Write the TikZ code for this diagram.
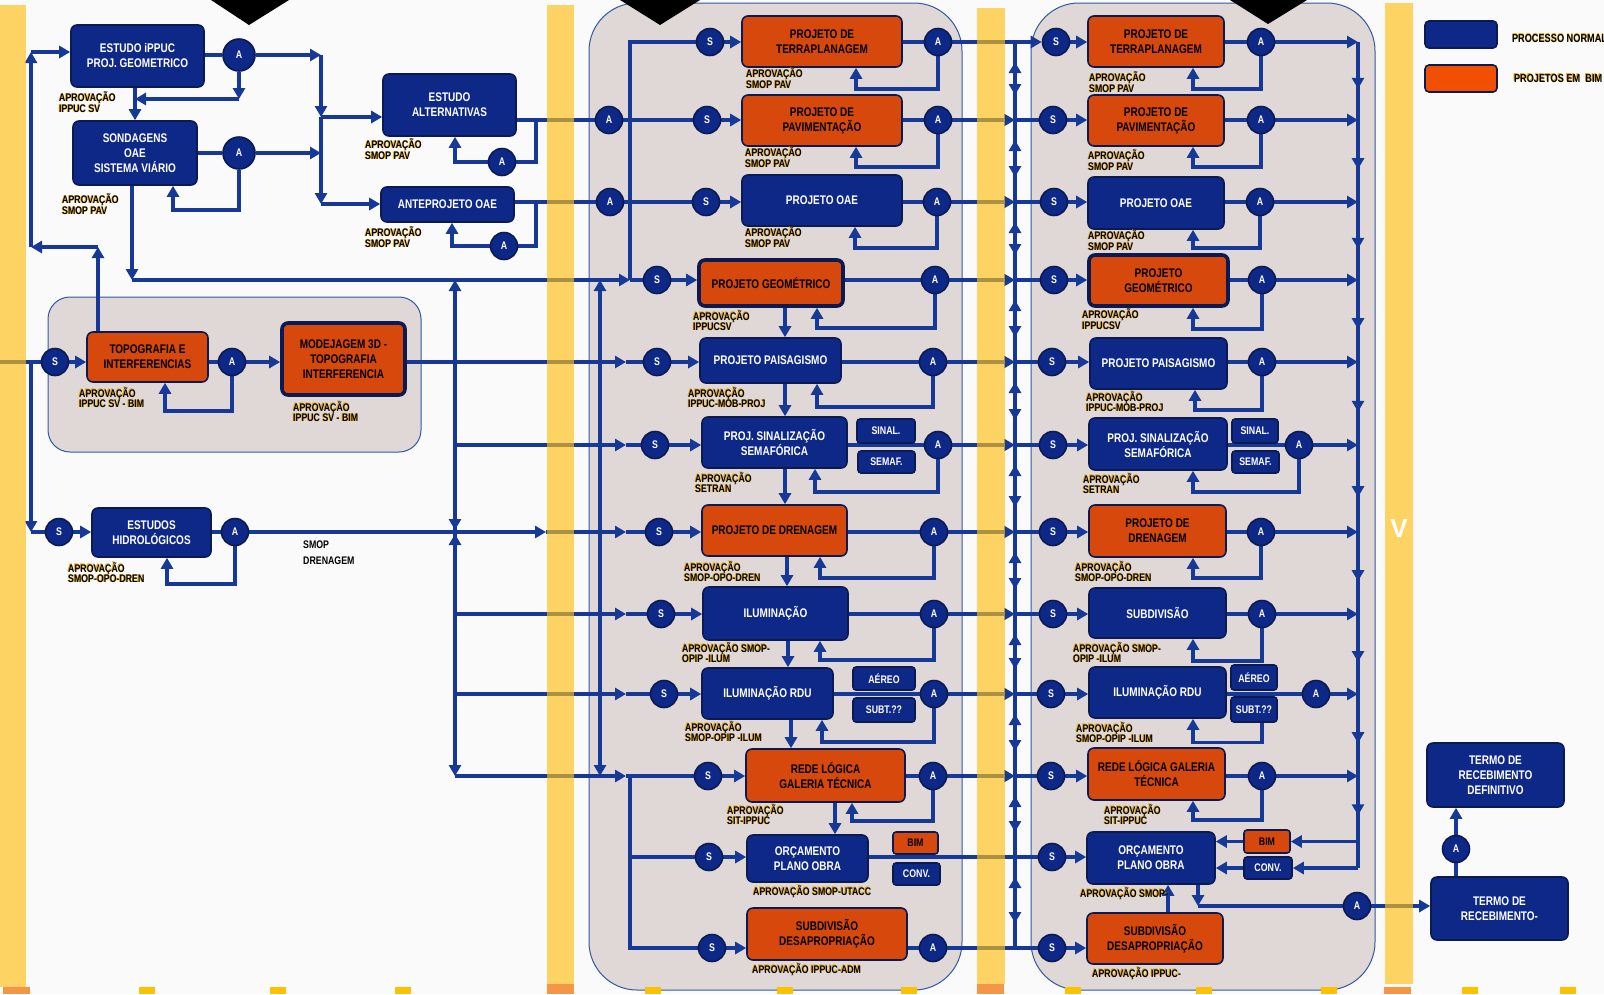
\documentclass[tikz,border=0pt]{standalone}
\usepackage{fontspec}
\setmainfont{Liberation Sans}
\newfontfamily\cnd{Liberation Sans}[FakeStretch=0.8]
\usetikzlibrary{arrows.meta,calc,positioning,decorations.markings}

\definecolor{lnblue}{RGB}{22,56,150}
\definecolor{boxblue}{RGB}{14,40,135}
\definecolor{navyd}{RGB}{12,26,82}
\definecolor{boxorange}{RGB}{214,72,12}
\definecolor{legorange}{RGB}{240,80,0}
\definecolor{grpfill}{RGB}{224,216,215}
\definecolor{grpedge}{RGB}{50,90,160}
\definecolor{baryel}{RGB}{255,193,21}
\definecolor{bgc}{RGB}{250,250,250}
\definecolor{sqyel}{RGB}{255,192,0}
\definecolor{sqora}{RGB}{245,150,70}
\definecolor{shadowor}{RGB}{235,165,0}

\pgfdeclarelayer{back}
\pgfdeclarelayer{lines}
\pgfdeclarelayer{front}
\pgfsetlayers{back,lines,main,front}

\tikzset{
  ln/.style={color=lnblue, line width=3.2pt},
  arr/.style={ln, ->},
  bidir/.style={postaction=decorate, decoration={markings,
      mark=at position 20pt with {\arrowreversed{Triangle[length=11pt,width=12pt]}},
      mark=at position -25pt with {\arrow{Triangle[length=11pt,width=12pt]}}}},
  midarr/.style={postaction=decorate, decoration={markings,
      mark=at position 0.6 with {\arrow{Triangle[length=11pt,width=12pt]}}}},
  bbox/.style={draw=navyd, line width=1.6pt, fill=boxblue, rounded corners=6pt, text=white,
      align=center, inner sep=0pt, font=\cnd\bfseries\fontsize{12.5}{15}\selectfont},
  obox/.style={bbox, fill=boxorange, text=black},
  thk/.style={line width=3.6pt},
  tag/.style={bbox, rounded corners=3pt, font=\cnd\bfseries\fontsize{11}{11}\selectfont},
  otag/.style={tag, fill=boxorange, text=black},
  circ/.style={circle, draw=navyd, line width=1.6pt, fill=boxblue, text=white, minimum size=27pt,
      inner sep=0pt, font=\cnd\bfseries\fontsize{11}{11}\selectfont},
  aptext/.style={anchor=north west, align=left, inner sep=0pt, text=black,
      font=\cnd\bfseries\fontsize{11}{9.5}\selectfont},
  apshadow/.style={aptext, text=shadowor, xshift=-0.9pt, yshift=0.7pt},
  legtxt/.style={inner sep=0pt, text=black, font=\cnd\bfseries\fontsize{11.5}{11.5}\selectfont},
  grp/.style={draw=grpedge, line width=1pt, fill=grpfill},
  yelbar/.style={fill=baryel, fill opacity=0.65},
}

% approval label with its coloured shadow
\newcommand{\aprov}[3]{%
  \node[apshadow] (#1s) at #2 {#3};
  \node[aptext] (#1) at #2 {#3};}

\begin{document}
\begin{tikzpicture}[x=1pt, y=-1pt, >={Triangle[length=11pt,width=12pt]}]
\useasboundingbox (0,0) rectangle (1604,994);

\begin{pgfonlayer}{back}
  \fill[bgc] (0,0) rectangle (1604,994);
  % grey groups
  \draw[grp, rounded corners=22pt] (48,297) rectangle (421,452);
  \draw[grp, rounded corners=48pt] (589,3) rectangle (962,990);
  \draw[grp, rounded corners=48pt] (1031,3) rectangle (1375,990);
\end{pgfonlayer}

% ---------- studies (left)
\node[bbox, minimum width=133, minimum height=62] (estudo) at (137.5,56) {ESTUDO iPPUC\\PROJ. GEOMETRICO};
\node[circ, minimum size=32] (aE) at (239,55) {A};
\node[bbox, minimum width=124, minimum height=64] (sond) at (135,153) {SONDAGENS\\OAE\\SISTEMA VIÁRIO};
\node[circ, minimum size=32] (aS) at (239,153) {A};
\node[bbox, minimum width=133, minimum height=62] (altern) at (449.5,105) {ESTUDO\\ALTERNATIVAS};
\node[circ] (aAlt) at (502,162) {A};
\node[bbox, minimum width=133, minimum height=35] (antep) at (447.5,204.5) {ANTEPROJETO OAE};
\node[circ] (aAnt) at (504,246) {A};
\node[obox, minimum width=121, minimum height=50] (topo) at (147.5,357) {TOPOGRAFIA E\\INTERFERENCIAS};
\node[circ] (sTopo) at (55,362) {S};
\node[circ] (aTopo) at (232,362) {A};
\node[obox, thk, minimum width=123, minimum height=72] (model) at (343.5,359) {MODEJAGEM 3D -\\TOPOGRAFIA\\INTERFERENCIA};
\node[bbox, minimum width=119, minimum height=49] (hidro) at (151.5,532.5) {ESTUDOS\\HIDROLÓGICOS};
\node[circ] (sHid) at (59,532) {S};
\node[circ] (aHid) at (235,532) {A};
\node[aptext, font=\cnd\bfseries\fontsize{11}{16}\selectfont] (smopdren) at (303,541) {SMOP\\DRENAGEM};

\aprov{apest}{(59,92)}{APROVAÇÃO\\IPPUC SV}
\aprov{apsond}{(62,194)}{APROVAÇÃO\\SMOP PAV}
\aprov{apalt}{(365,139)}{APROVAÇÃO\\SMOP PAV}
\aprov{apant}{(365,227)}{APROVAÇÃO\\SMOP PAV}
\aprov{aptopo}{(79,387)}{APROVAÇÃO\\IPPUC SV - BIM}
\aprov{apmod}{(293,401)}{APROVAÇÃO\\IPPUC SV - BIM}
\aprov{aphid}{(68,562)}{APROVAÇÃO\\SMOP-OPO-DREN}

% ---------- projects (middle)
\node[circ] (ma2in) at (609,120) {A};
\node[circ] (ma3in) at (610,202) {A};

\node[circ] (ms1) at (710,42) {S};
\node[obox, minimum width=160, minimum height=51] (m1) at (822,41.5) {PROJETO DE\\TERRAPLANAGEM};
\node[circ] (ma1) at (938,42) {A};
\node[circ] (ms2) at (707,120) {S};
\node[obox, minimum width=160, minimum height=51] (m2) at (822,120.5) {PROJETO DE\\PAVIMENTAÇÃO};
\node[circ] (ma2) at (938,120) {A};
\node[circ] (ms3) at (706,202) {S};
\node[bbox, minimum width=160, minimum height=51] (m3) at (822,200.5) {PROJETO OAE};
\node[circ] (ma3) at (937,202) {A};
\node[circ] (ms4) at (657,280) {S};
\node[obox, thk, minimum width=144, minimum height=46] (m4) at (771,283) {PROJETO GEOMÉTRICO};
\node[circ] (ma4) at (935,280) {A};
\node[circ] (ms5) at (657,362) {S};
\node[bbox, minimum width=141, minimum height=45] (m5) at (770.5,360.5) {PROJETO PAISAGISMO};
\node[circ] (ma5) at (933,362) {A};
\node[circ] (ms6) at (655,445) {S};
\node[bbox, minimum width=145, minimum height=51] (m6) at (774.5,442.5) {PROJ. SINALIZAÇÃO\\SEMAFÓRICA};
\node[tag, minimum width=58, minimum height=24] (sinal1) at (886,431) {SINAL.};
\node[tag, minimum width=57, minimum height=22] (semaf1) at (886.5,462) {SEMAF.};
\node[circ] (ma6) at (938,445) {A};
\node[circ] (ms7) at (659,532) {S};
\node[obox, minimum width=145, minimum height=51] (m7) at (774.5,530.5) {PROJETO DE DRENAGEM};
\node[circ] (ma7) at (934,532) {A};
\node[circ] (ms8) at (661,614) {S};
\node[bbox, minimum width=145, minimum height=53] (m8) at (775.5,613.5) {ILUMINAÇÃO};
\node[circ] (ma8) at (934,614) {A};
\node[circ] (ms9) at (664,694) {S};
\node[bbox, minimum width=131, minimum height=51] (m9) at (767.5,693.5) {ILUMINAÇÃO RDU};
\node[tag, minimum width=62, minimum height=23] (aereo1) at (884,678.5) {AÉREO};
\node[tag, minimum width=62, minimum height=24] (subt1) at (884,710) {SUBT.??};
\node[circ] (ma9) at (934,694) {A};
\node[circ] (ms10) at (708,776) {S};
\node[obox, minimum width=159, minimum height=53] (m10) at (825.5,775.5) {REDE LÓGICA\\GALERIA TÉCNICA};
\node[circ] (ma10) at (933,776) {A};
\node[circ] (ms11) at (709,857) {S};
\node[bbox, minimum width=121, minimum height=47] (m11) at (807.5,858.5) {ORÇAMENTO\\PLANO OBRA};
\node[otag, minimum width=45, minimum height=22] (bim1) at (915.5,843) {BIM};
\node[tag, minimum width=47, minimum height=22] (conv1) at (916.5,874) {CONV.};
\node[circ] (ms12) at (712,948) {S};
\node[obox, minimum width=160, minimum height=52] (m12) at (827,934) {SUBDIVISÃO\\DESAPROPRIAÇÃO};
\node[circ] (ma12) at (933,948) {A};

\aprov{apm1}{(746,68)}{APROVAÇÃO\\SMOP PAV}
\aprov{apm2}{(745,147)}{APROVAÇÃO\\SMOP PAV}
\aprov{apm3}{(745,227)}{APROVAÇÃO\\SMOP PAV}
\aprov{apm4}{(693,310)}{APROVAÇÃO\\IPPUCSV}
\aprov{apm5}{(688,387)}{APROVAÇÃO\\IPPUC-MOB-PROJ}
\aprov{apm6}{(695,472)}{APROVAÇÃO\\SETRAN}
\aprov{apm7}{(684,561)}{APROVAÇÃO\\SMOP-OPO-DREN}
\aprov{apm8}{(682,642)}{APROVAÇÃO SMOP-\\OPIP -ILUM}
\aprov{apm9}{(685,721)}{APROVAÇÃO\\SMOP-OPIP -ILUM}
\aprov{apm10}{(727,804)}{APROVAÇÃO\\SIT-IPPUC}
\aprov{apm11}{(753,885)}{APROVAÇÃO SMOP-UTACC}
\aprov{apm12}{(752,963)}{APROVAÇÃO IPPUC-ADM}

% ---------- projects (right)
\node[circ] (rs1) at (1056,42) {S};
\node[obox, minimum width=136, minimum height=51] (r1) at (1156,41.5) {PROJETO DE\\TERRAPLANAGEM};
\node[circ] (ra1) at (1261,42) {A};
\node[circ] (rs2) at (1053,120) {S};
\node[obox, minimum width=136, minimum height=51] (r2) at (1156,120.5) {PROJETO DE\\PAVIMENTAÇÃO};
\node[circ] (ra2) at (1261,120) {A};
\node[circ] (rs3) at (1054,202) {S};
\node[bbox, minimum width=136, minimum height=52] (r3) at (1156,203) {PROJETO OAE};
\node[circ] (ra3) at (1260,202) {A};
\node[circ] (rs4) at (1054,280) {S};
\node[obox, thk, minimum width=139, minimum height=51] (r4) at (1158.5,280.5) {PROJETO\\GEOMÉTRICO};
\node[circ] (ra4) at (1262,280) {A};
\node[circ] (rs5) at (1052,362) {S};
\node[bbox, minimum width=137, minimum height=51] (r5) at (1158.5,363.5) {PROJETO PAISAGISMO};
\node[circ] (ra5) at (1262,362) {A};
\node[circ] (rs6) at (1053,445) {S};
\node[bbox, minimum width=138, minimum height=52] (r6) at (1158,444) {PROJ. SINALIZAÇÃO\\SEMAFÓRICA};
\node[tag, minimum width=46, minimum height=24] (sinal2) at (1255,431) {SINAL.};
\node[tag, minimum width=47, minimum height=22] (semaf2) at (1255.5,462) {SEMAF.};
\node[circ] (ra6) at (1299,445) {A};
\node[circ] (rs7) at (1053,532) {S};
\node[obox, minimum width=137, minimum height=52] (r7) at (1157.5,531) {PROJETO DE\\DRENAGEM};
\node[circ] (ra7) at (1261,532) {A};
\node[circ] (rs8) at (1053,614) {S};
\node[bbox, minimum width=137, minimum height=50] (r8) at (1157.5,613) {SUBDIVISÃO};
\node[circ] (ra8) at (1262,614) {A};
\node[circ] (rs9) at (1051,694) {S};
\node[bbox, minimum width=137, minimum height=51] (r9) at (1157.5,692.5) {ILUMINAÇÃO RDU};
\node[tag, minimum width=46, minimum height=25] (aereo2) at (1254,677.5) {AÉREO};
\node[tag, minimum width=46, minimum height=25] (subt2) at (1254,709.5) {SUBT.??};
\node[circ] (ra9) at (1316,694) {A};
\node[circ] (rs10) at (1051,776) {S};
\node[obox, minimum width=137, minimum height=52] (r10) at (1156.5,774) {REDE LÓGICA  GALERIA\\TÉCNICA};
\node[circ] (ra10) at (1262,776) {A};
\node[circ] (rs11) at (1052,857) {S};
\node[bbox, minimum width=128, minimum height=52] (r11) at (1151,858) {ORÇAMENTO\\PLANO OBRA};
\node[otag, minimum width=46, minimum height=23] (bim2) at (1267,841.5) {BIM};
\node[tag, minimum width=48, minimum height=22] (conv2) at (1268,868) {CONV.};
\node[circ] (ra11) at (1357,906) {A};
\node[circ] (rs12) at (1052,948) {S};
\node[obox, minimum width=136, minimum height=51] (r12) at (1155,938.5) {SUBDIVISÃO\\DESAPROPRIAÇÃO};

\aprov{apr1}{(1089,72)}{APROVAÇÃO\\SMOP PAV}
\aprov{apr2}{(1088,150)}{APROVAÇÃO\\SMOP PAV}
\aprov{apr3}{(1088,230)}{APROVAÇÃO\\SMOP PAV}
\aprov{apr4}{(1082,309)}{APROVAÇÃO\\IPPUCSV}
\aprov{apr5}{(1086,391)}{APROVAÇÃO\\IPPUC-MOB-PROJ}
\aprov{apr6}{(1083,473)}{APROVAÇÃO\\SETRAN}
\aprov{apr7}{(1075,561)}{APROVAÇÃO\\SMOP-OPO-DREN}
\aprov{apr8}{(1073,642)}{APROVAÇÃO SMOP-\\OPIP -ILUM}
\aprov{apr9}{(1076,722)}{APROVAÇÃO\\SMOP-OPIP -ILUM}
\aprov{apr10}{(1104,804)}{APROVAÇÃO\\SIT-IPPUC}
\aprov{apr11}{(1080,887)}{APROVAÇÃO  SMOP-}
\aprov{apr12}{(1092,967)}{APROVAÇÃO IPPUC-}

% ---------- acceptance terms and legend
\node[bbox, minimum width=137, minimum height=64] (termodef) at (1495.5,775) {TERMO DE\\RECEBIMENTO\\DEFINITIVO};
\node[circ] (ta) at (1456,849) {A};
\node[bbox, minimum width=137, minimum height=63] (termo) at (1499.5,908.5) {TERMO DE\\RECEBIMENTO-};

\node[bbox, rounded corners=4pt, minimum width=72, minimum height=27] (lgb) at (1461,34.5) {};
\node[obox, fill=legorange, rounded corners=4pt, minimum width=72, minimum height=27] (lgo) at (1461,78.5) {};
\node[legtxt, text=shadowor, right=14pt of lgb, yshift=-3.3pt] (lgbts) {PROCESSO NORMAL};
\node[legtxt, right=14pt of lgb, yshift=-4pt] (lgbt) {PROCESSO NORMAL};
\node[legtxt, text=shadowor, right=16pt of lgo, xshift=-0.9pt, yshift=0.7pt] (lgots) {PROJETOS EM\ \ BIM};
\node[legtxt, right=16pt of lgo] (lgot) {PROJETOS EM\ \ BIM};

% ---------- bus points
\coordinate (lv1) at (31,52);
\coordinate (lv2) at (31,247);
\coordinate (t1) at (98,247);
\coordinate (lin) at (0,362);
\coordinate (jl) at (31,362);
\coordinate (j1) at (321,55);
\coordinate (j2) at (321,117);
\coordinate (j3) at (321,153);
\coordinate (j4) at (321,204);
\coordinate (k1) at (135,99);
\coordinate (k2) at (132,280);
\coordinate (k3) at (536,120);
\coordinate (k4) at (536,202);
\coordinate (j630) at (630,280);
\coordinate (j10) at (630,776);
\coordinate (v280) at (455,280);
\coordinate (v532) at (455,532);
\coordinate (v776) at (455,776);
\coordinate (b2) at (546,0);
\coordinate (mx) at (626,0);
\coordinate (x6) at (600,0);
\coordinate (lbx) at (1015,0);
\coordinate (rbx) at (1358,0);

\begin{pgfonlayer}{lines}
  % left side
  \draw[arr] (topo.north -| t1) -- (t1);
  \draw[arr] (t1) -- (lv2);
  \draw[arr] (lv2) -- (lv1);
  \draw[arr] (lv1) -- (lv1 -| estudo.west);
  \draw[ln] (estudo.east |- aE) -- (aE);
  \draw[arr] (aE) -- (j1);
  \draw[arr] (j1) -- (j2);
  \draw[arr] (j2) -- (j4);
  \draw[arr] (aS) -- (j3);
  \draw[arr] (j2) -- (j2 -| altern.west);
  \draw[arr] (j4) -- (j4 -| antep.west);
  \draw[arr] (aE) -- (aE |- k1);
  \draw[arr] (aE |- k1) -- (k1);
  \draw[arr] (estudo.south -| sond) -- (sond.north);
  \draw[ln] (sond.east |- aS) -- (aS);
  \draw[arr] (aS) -- ++(0,57) -| ([xshift=38]sond.south);
  \draw[arr] (sond.south -| k2) -- (k2);
  \draw[arr] (k2) -- (j630);
  \draw[ln] (lin) -- (sTopo);
  \draw[arr] (jl) -- (jl |- sHid);
  \draw[ln] (jl |- sHid) -- (sHid);
  \draw[arr] (sTopo) -- (sTopo -| topo.west);
  \draw[ln] (topo.east |- aTopo) -- (aTopo);
  \draw[arr] (aTopo) -- (aTopo -| model.west);
  \draw[arr] (aTopo) -- ++(0,49) -| ([xshift=17.5]topo.south);
  \draw[arr] (sHid) -- (sHid -| hidro.west);
  \draw[ln] (hidro.east |- aHid) -- (aHid);
  \draw[arr] (aHid) -- ++(0,52) -| ([xshift=15.5]hidro.south);

  % into the middle group
  \draw[ln] (j630) -- (ms4);
  \draw[ln] (j630) |- (ms1);
  \draw[ln] (altern.east |- ma2in) -- (ma2in);
  \draw[ln] (ma2in) -- (ms2);
  \draw[ln] (k3) |- (aAlt);
  \draw[arr] (aAlt) -| ([xshift=5.5]altern.south);
  \draw[ln] (antep.east |- ma3in) -- (ma3in);
  \draw[ln] (ma3in) -- (ms3);
  \draw[ln] (k4) |- (aAnt);
  \draw[arr] (aAnt) -| ([xshift=4.5]antep.south);
  \draw[arr] (model.east |- ms5) -- (mx |- ms5);
  \draw[arr] (v532) -- (v280);
  \draw[arr] (v532) -- (v776);
  \draw[arr] ([yshift=20]v532) -- ([yshift=2]v532);
  \draw[arr] ([yshift=-20]v532) -- ([yshift=-2]v532);
  \draw[arr] (v280 |- ms6) -- (mx |- ms6);
  \draw[arr] (v280 |- ms8) -- (mx |- ms8);
  \draw[arr] (v280 |- ms9) -- (mx |- ms9);
  \draw[arr] (v776) -- (mx |- ms10);
  \draw[arr] (aHid) -- (b2 |- aHid);
  \draw[arr] (b2 |- aHid) -- (mx |- ms7);
  \foreach \n in {5,6,7,8,9,10} \draw[ln] (mx |- ms\n) -- (ms\n);
  \draw[ln, <->] (x6 |- ms4) -- (x6 |- ms10);
  \draw[ln] (j10) |- (ms11);
  \draw[ln] (j10) |- (ms12);

  % middle rows
  \foreach \n in {1,2,3,4,5,6,7,8,9,10,12} {
    \draw[arr] (ms\n) -- (ms\n -| m\n.west);
    \draw[ln] (m\n.east |- ma\n) -- (ma\n);
  }
  \draw[arr] (ms11) -- (ms11 -| m11.west);
  \foreach \n/\d/\s in {1/47/34, 2/47/34, 3/46/33, 4/48/46, 5/45/46.5, 6/47/40.5,
                        7/46/45.5, 8/46/44.5, 9/48/54.5, 10/45/26.5}
    \draw[arr] (ma\n) -- ++(0,\d) -| ([xshift=\s]m\n.south);
  \foreach \a/\b/\s in {4/5/14, 5/6/14.5, 6/7/10.5, 7/8/12.5, 8/9/12.5, 9/10/23.5, 10/11/9.5}
    \draw[arr] ([xshift=\s]m\a.south) -- ([xshift=\s]m\a.south |- m\b.north);

  % middle to right
  \draw[arr] (ma1) -- (rs1);
  \foreach \n in {2,3,4,5,6,7,8,9,10} {
    \draw[arr] (ma\n) -- (lbx |- ma\n);
    \draw[ln] (lbx |- rs\n) -- (rs\n);
  }
  \draw[ln] (m11.east |- rs11) -- (rs11);
  \draw[ln] (ma12) -- (rs12);
  \foreach \a/\b in {1/2,2/3,3/4,4/5,5/6,6/7,7/8,8/9,9/10,10/11,11/12}
    \draw[ln, bidir] (lbx |- rs\a) -- (lbx |- rs\b);

  % right rows
  \foreach \n in {1,2,3,4,5,6,7,8,9,10} {
    \draw[arr] (rs\n) -- (rs\n -| r\n.west);
    \draw[ln] (r\n.east |- ra\n) -- (ra\n);
    \draw[arr] (ra\n) -- (rbx |- ra\n);
  }
  \draw[arr] (rs11) -- (rs11 -| r11.west);
  \draw[arr] (rs12) -- (rs12 -| r12.west);
  \foreach \n/\d/\s in {1/47/37, 2/47/37, 3/46/37, 4/49/34.5, 5/48/36.5, 6/47/35,
                        7/46/35.5, 8/47/35.5, 10/44/36.5}
    \draw[arr] (ra\n) -- ++(0,\d) -| ([xshift=\s]r\n.south);
  \draw[arr] ([xshift=8]subt2.south) -- ++(0,20) -| ([xshift=35.5]r9.south);
  \foreach \a/\b in {1/2,2/3,3/4,4/5,5/6,6/7,7/8,8/9,9/10}
    \draw[ln, midarr] (rbx |- ra\a) -- (rbx |- ra\b);
  \draw[ln, midarr] (rbx |- ra10) -- (rbx |- bim2.east);
  \draw[ln] (rbx |- bim2.east) -- (rbx |- conv2.east);
  \draw[arr] (rbx |- bim2.east) -- (bim2.east);
  \draw[arr] (rbx |- conv2.east) -- (conv2.east);
  \draw[arr] (bim2.west) -- (bim2.west -| r11.east);
  \draw[arr] (conv2.west) -- (conv2.west -| r11.east);
  \draw[arr] ([xshift=47]r11.south) -- ([xshift=47]r11.south |- ra11);
  \draw[ln] ([xshift=47]r11.south |- ra11) -- (ra11);
  \draw[arr] ([xshift=13]r12.north) -- ([xshift=13]r12.north |- r11.south);
  \draw[arr] (ra11) -- (ra11 -| termo.west);
  \draw[ln] (termo.north -| ta) -- (ta);
  \draw[arr] (ta) -- (ta |- termodef.south);
\end{pgfonlayer}

\begin{pgfonlayer}{front}
  % yellow bars
  \fill[yelbar] (0,5) rectangle (26,987);
  \fill[yelbar] (547,5) rectangle (574,984);
  \fill[yelbar] (977,8) rectangle (1005,984);
  \fill[yelbar] (1385,3) rectangle (1413,984);
  \fill[sqora] (3,987) rectangle (30,994);
  \fill[sqora] (547,984) rectangle (574,994);
  \fill[sqora] (977,984) rectangle (1004,994);
  \fill[sqora] (1384,987) rectangle (1411,994);
  \foreach \x in {139,270,395,645,777,901,1065,1196,1321,1462,1560}
    \fill[sqyel] (\x,987) rectangle ++(16,7);
  % black markers at the top
  \fill[black] (211,0) -- (289,0) -- (249,25) -- cycle;
  \fill[black] (620,0) -- (700,0) -- (660,25) -- cycle;
  \fill[black] (1230,0) -- (1307,0) -- (1268,24) -- cycle;
  \node[text=white, font=\bfseries\fontsize{26}{26}\selectfont] (vlab) at (1399,529) {V};
\end{pgfonlayer}
\end{tikzpicture}
\end{document}
